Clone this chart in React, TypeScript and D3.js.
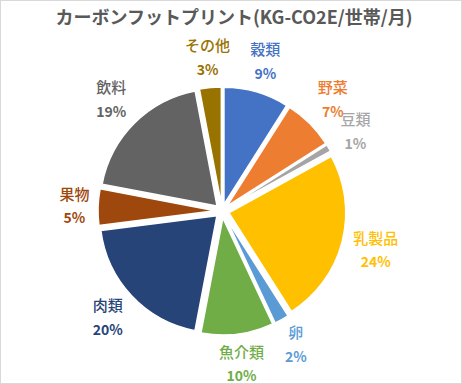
import React from 'react';
import * as d3 from 'd3';

const categories = ['穀類', '野菜', '豆類', '乳製品', '卵', '魚介類', '肉類', '果物', '飲料', 'その他'];
const values = [9, 7, 1, 24, 2, 10, 20, 5, 19, 3];
const colors = ['#4472C4', '#ED7D31', '#A5A5A5', '#FFC000', '#5B9BD5', '#70AD47', '#264478', '#9E480E', '#636363', '#997300'];
const title = 'カーボンフットプリント(KG-CO2E/世帯/月)';

const W = 462;
const H = 384;
const cx = 222;
const cy = 211;
const R = 117;
const explode = 7;
const labelR0 = 132;
const FONT = '"Noto Sans CJK JP", "Noto Sans", sans-serif';

export default function App() {
  const total = d3.sum(values);
  const pie = d3.pie<number>().sort(null).value((d) => d).startAngle(0).endAngle(2 * Math.PI);
  const arcs = pie(values);
  const arc = d3.arc<d3.PieArcDatum<number>>().innerRadius(0).outerRadius(R);

  return (
    <svg width={W} height={H} style={{ position: 'absolute', left: 0, top: 0, background: '#fff' }} fontFamily={FONT}>
      <rect x={0.5} y={0.5} width={W - 1} height={H - 1} fill="#fff" stroke="#d9d9d9" strokeWidth={1} />
      <text x={234} y={24} textAnchor="middle" fontSize={18} fontWeight="bold" fill="#595959">
        {title}
      </text>
      <g transform={`translate(${cx},${cy})`}>
        {arcs.map((a, i) => {
          const mid = (a.startAngle + a.endAngle) / 2;
          const dx = Math.sin(mid) * explode;
          const dy = -Math.cos(mid) * explode;
          return (
            <path
              key={categories[i]}
              d={arc(a) || ''}
              transform={`translate(${dx},${dy})`}
              fill={colors[i]}
              stroke="#fff"
              strokeWidth={1.5}
              strokeLinejoin="round"
            />
          );
        })}
        {arcs.map((a, i) => {
          const mid = (a.startAngle + a.endAngle) / 2;
          const s = Math.sin(mid);
          const c = -Math.cos(mid);
          const w = categories[i].length * 15;
          const h = 40;
          const off = labelR0 + Math.abs(s) * w / 2 + Math.abs(c) * h / 2;
          const lx = s * off;
          const ly = c * off;
          const pct = Math.round((values[i] / total) * 100) + '%';
          return (
            <g key={'l' + i} fill={colors[i]} textAnchor="middle">
              <text x={lx} y={ly - 12} dy="0.35em" fontSize={15} fontWeight={500}>
                {categories[i]}
              </text>
              <text x={lx} y={ly + 12} dy="0.35em" fontSize={14} fontWeight="bold">
                {pct}
              </text>
            </g>
          );
        })}
      </g>
    </svg>
  );
}
